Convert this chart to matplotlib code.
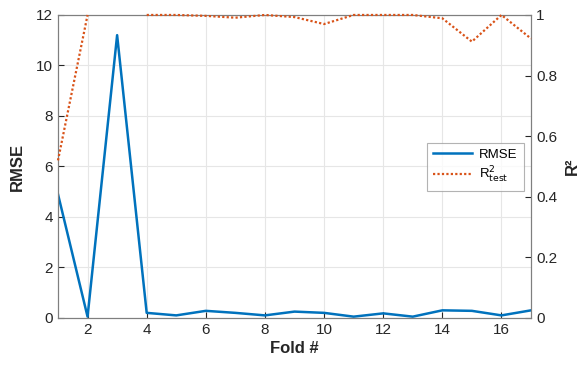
import matplotlib.pyplot as plt
import numpy as np

folds = list(range(1, 18))
rmse = [4.9, 0.05, 11.2, 0.2, 0.1, 0.28, 0.2, 0.1, 0.25, 0.2, 0.05, 0.18, 0.05, 0.3, 0.28, 0.1, 0.3]
r2_test = [0.52, 1.0, np.nan, 1.0, 1.0, 0.997, 0.991, 1.0, 0.993, 0.97, 1.0, 1.0, 1.0, 0.989, 0.912, 1.0, 0.922]

blue = "#0072BD"
orange = "#D95319"
txt = "#262626"

plt.rcParams['font.family'] = ['Liberation Sans', 'DejaVu Sans']

fig = plt.figure(figsize=(5.84, 3.65), dpi=100)
ax = fig.add_axes([0.0993, 0.129, 0.81, 0.83])
ax2 = ax.twinx()

l1, = ax.plot(folds, rmse, color=blue, lw=1.8, label="RMSE")
l2, = ax2.plot(folds, r2_test, color=orange, lw=1.6, ls=(0, (1, 1)), zorder=3,
               clip_on=False, label=r"R$^{2}_{\rm test}$")

ax.set_xlim(1, 17)
ax.set_ylim(0, 12)
ax2.set_ylim(0, 1)
ax.set_xticks(range(2, 17, 2))
ax.set_yticks(range(0, 13, 2))
ax2.set_yticks([0, 0.2, 0.4, 0.6, 0.8, 1])
ax2.set_yticklabels(["0", "0.2", "0.4", "0.6", "0.8", "1"])

ax.grid(True, color="#e6e6e6", lw=0.8)
ax.set_axisbelow(True)

for a in (ax, ax2):
    a.tick_params(direction="in", length=4, labelsize=11, colors=txt, width=0.8)
    for s in a.spines.values():
        s.set_color("#7f7f7f")
        s.set_linewidth(0.8)

ax.set_xlabel("Fold #", fontsize=12, fontweight="bold", color=txt, labelpad=3)
ax.set_ylabel("RMSE", fontsize=12, fontweight="bold", color=txt, labelpad=8)
ax2.set_ylabel("R²", fontsize=12, fontweight="bold", color=txt, labelpad=6)

leg = ax2.legend(handles=[l1, l2], loc="upper left", bbox_to_anchor=(0.78, 0.578),
                 borderaxespad=0, fontsize=9.5, frameon=True, fancybox=False,
                 edgecolor="#a0a0a0", handlelength=3.0, handletextpad=0.5,
                 borderpad=0.45, labelspacing=0.3)
leg.get_frame().set_linewidth(0.8)

fig.savefig("out.png", dpi=100)
